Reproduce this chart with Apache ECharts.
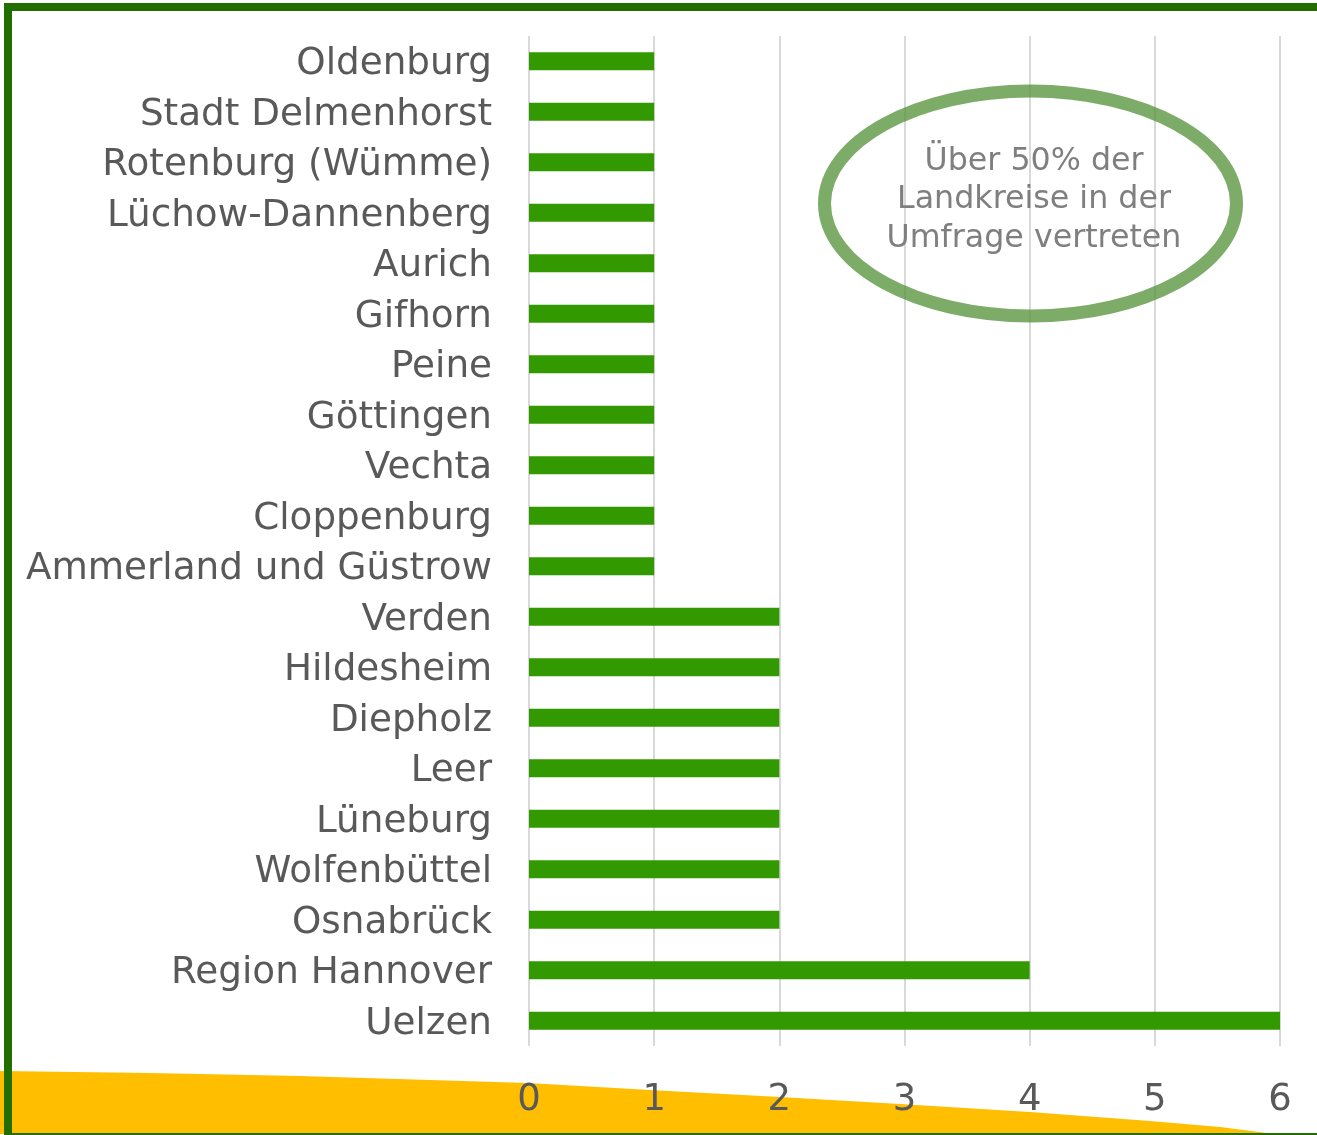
<!DOCTYPE html>
<html>
<head>
<meta charset="utf-8">
<script src="https://cdn.jsdelivr.net/npm/echarts@6/dist/echarts.min.js"></script>
<style>
  html, body { margin: 0; padding: 0; background: #fff; }
  #chart { width: 1317px; height: 1135px; }
</style>
</head>
<body>
<div id="chart"></div>
<script>
const landkreise = [
  'Oldenburg', 'Stadt Delmenhorst', 'Rotenburg (Wümme)', 'Lüchow-Dannenberg',
  'Aurich', 'Gifhorn', 'Peine', 'Göttingen', 'Vechta', 'Cloppenburg',
  'Ammerland und Güstrow', 'Verden', 'Hildesheim', 'Diepholz', 'Leer',
  'Lüneburg', 'Wolfenbüttel', 'Osnabrück', 'Region Hannover', 'Uelzen'
]
const anzahl = [1, 1, 1, 1, 1, 1, 1, 1, 1, 1, 1, 2, 2, 2, 2, 2, 2, 2, 4, 6]
const xTicks = [0, 1, 2, 3, 4, 5, 6]
const hinweis = 'Über 50% der\nLandkreise in der\nUmfrage vertreten'

const chart = echarts.init(document.getElementById('chart'))
const font = '"DejaVu Sans", Verdana, sans-serif'

const option = {
  animation: false,
  grid: { left: 529, right: 37, top: 36, bottom: 89 },
  xAxis: {
    type: 'value',
    min: xTicks[0],
    max: xTicks[xTicks.length - 1],
    interval: 1,
    axisLine: { show: false },
    axisTick: { show: false },
    splitLine: { show: true, lineStyle: { color: '#d9d9d9', width: 2 } },
    axisLabel: { color: '#595959', fontSize: 37, fontFamily: font, margin: 36 }
  },
  yAxis: {
    type: 'category',
    inverse: true,
    data: landkreise,
    axisLine: { show: false },
    axisTick: { show: false },
    axisLabel: {
      margin: 37,
      formatter: v => '{n|' + v + '}',
      rich: {
        n: { color: '#595959', fontSize: 37.3, fontFamily: font, padding: [7, 0, 0, 0] }
      }
    }
  },
  series: [{
    type: 'bar',
    data: anzahl,
    barWidth: 18,
    itemStyle: { color: '#339900' },
    z: 3
  }],
  graphic: [
    // gelbe Welle unten
    {
      type: 'polygon',
      z: -10,
      shape: {
        points: [[0, 1071], [150, 1073], [300, 1076], [528, 1083], [650, 1090],
                 [780, 1097], [900, 1104], [1030, 1112], [1150, 1121],
                 [1220, 1127], [1275, 1134], [0, 1134]]
      },
      style: { fill: '#ffbf00' }
    },
    // gruener Rahmen
    { type: 'rect', z: 50, shape: { x: 4, y: 3, width: 8, height: 1132 }, style: { fill: '#236e00' } },
    { type: 'rect', z: 50, shape: { x: 4, y: 3, width: 1313, height: 8 }, style: { fill: '#236e00' } },
    { type: 'rect', z: 50, shape: { x: 4, y: 1133, width: 1313, height: 2 }, style: { fill: '#236e00' } },
    // Ellipse mit Hinweis
    {
      type: 'ellipse',
      z: 60,
      shape: { cx: 1030.5, cy: 203.5, rx: 206, ry: 112.5 },
      style: { fill: 'none', stroke: 'rgba(84,145,56,0.76)', lineWidth: 13 }
    },
    {
      type: 'text',
      z: 61,
      x: 1034,
      y: 200,
      style: {
        text: hinweis,
        fill: '#7f7f7f',
        font: '31.7px ' + font,
        lineHeight: 38.5,
        align: 'center',
        verticalAlign: 'middle'
      }
    }
  ]
}

chart.setOption(option)
</script>
</body>
</html>
